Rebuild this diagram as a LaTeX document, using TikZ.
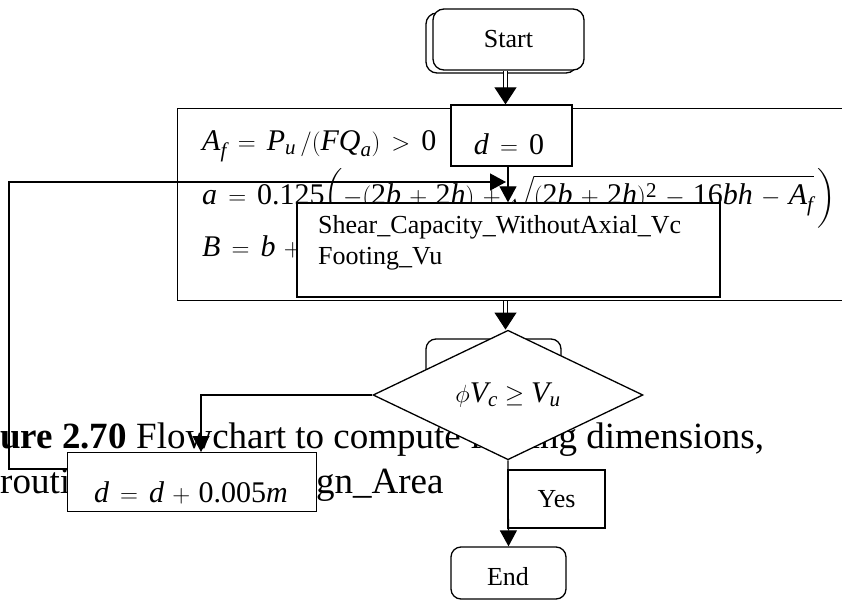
\documentclass[tikz,border=0pt]{standalone}
\usepackage{amsmath}
\usepackage{fontspec}
\setmainfont{Liberation Serif}
\usetikzlibrary{arrows.meta,shapes.geometric,calc}
\newcommand\mv[1]{\textit{#1}}
\newcommand\mr[1]{\textup{#1}}
\newcommand\widesp{\thickmuskip=8mu\relax\medmuskip=6mu\relax}
\begin{document}
\begin{tikzpicture}[x=1pt,y=-1pt,
  lbl/.style={font=\fontsize{26}{31}\selectfont, inner sep=0pt},
  mth/.style={font=\fontsize{30}{36}\selectfont\widesp, inner sep=0pt},
  mthd/.style={font=\fontsize{30}{36}\selectfont, inner sep=0pt},
  captxt/.style={font=\fontsize{37}{44}\selectfont, inner sep=0pt},
  box/.style={draw, line width=1.3pt, fill=white, inner sep=0pt},
  rbox/.style={box, rounded corners=11pt},
  arr/.style={line width=1.3pt, -{Triangle[length=16pt,width=17pt]}},
  dbl/.style={double, double distance=3.5pt, line width=1pt, -{Triangle[length=17pt,width=22pt]}}]
\useasboundingbox (0,0) rectangle (842,601);
\clip (0,0) rectangle (842,601);
% caption text (lowest layer)
\node[captxt, anchor=base west] (cap1) at (0,448) {\textbf{ure 2.70} Flowchart to compute footing dimensions,};
\node[captxt, anchor=base west] (cap2) at (0,493) {routi};
\node[captxt, anchor=base west] (cap3) at (316,493) {gn\_Area};
% large formula box
\node[box, minimum width=723pt, minimum height=192pt, anchor=north west] (big) at (177,108) {};
\node[mth, anchor=base west] (row1) at (202,151) {$\mv{A}_{\mv{f}} = \mv{P}_{\mv{u}}\,/(\mv{FQ}_{\mv{a}}) > \mr{0}$};
\node[mth, anchor=base west] (row2) at (202,205) {$\mv{a} = \mr{0.125}\biggl(-(\mr{2}\mv{b}+\mr{2}\mv{h}) + \sqrt{(\mr{2}\mv{b}+\mr{2}\mv{h})^{\mr{2}} - \mr{16}\mv{bh} - \mv{A}_{\mv{f}}}\,\biggr)$};
\node[mth, anchor=base west] (row3) at (202,257) {$\mv{B} = \mv{b} + {}$};
% d = 0
\node[box, minimum width=121pt, minimum height=61pt] (dzero) at (511.5,135.5) {};
\node[mth, anchor=base] (dzerot) at (509,155) {$\mv{d} = \mr{0}$};
% shear box
\node[box, minimum width=423pt, minimum height=94pt] (shear) at (508.5,250) {};
\node[lbl, anchor=base west, align=left] (sheart) at (318,265) {Shear\_Capacity\_WithoutAxial\_Vc\\Footing\_Vu};
\coordinate (jn) at (506,182);
% start
\node[rbox, minimum width=151pt, minimum height=60pt] (startb) at (501.5,43) {};
\node[rbox, lbl, minimum width=151pt, minimum height=61pt] (start) at (508.5,39.5) {Start};
% decision
\node[rbox, rounded corners=10pt, minimum width=135pt, minimum height=71pt] (dechid) at (493.5,374.5) {};
\node[box, diamond, minimum width=270pt, minimum height=117pt, mthd] (dec) at (508,395) {$\phi\mv{V}_{\mv{c}} \geq \mv{V}_{\mv{u}}$};
% d = d + 0.005m
\node[box, minimum width=249pt, minimum height=59pt, anchor=north west] (dplus) at (67,452) {};
\node[mth, anchor=base] (dplust) at (191,502) {$\mv{d} = \mv{d} + \mr{0.005}\mv{m}$};
\coordinate (lp) at ($(dplus.north west)+(0,17)$);
% yes / end
\node[box, lbl, minimum width=97pt, minimum height=58pt] (yes) at (556.5,499) {Yes};
\node[rbox, rounded corners=10pt, minimum width=115pt, minimum height=52pt] (endn) at (508.5,573) {};
\node[lbl, anchor=base] (endt) at (508,585) {End};
% connectors
\draw[dbl] ([xshift=-3pt]start.south) -- ([xshift=-6pt]dzero.north);
\draw[arr] ([xshift=-3.5pt]dzero.south) -- ([xshift=-0.5pt]shear.north);
\draw[arr] (lp) -| (9,182) -- (jn);
\draw[dbl] ([xshift=-2.5pt]dec.north |- big.south) -- ([xshift=-2.5pt]dec.north);
\draw[arr] (dec.west) -| ([xshift=134pt]dplus.north west);
\draw[arr] (dec.south) -- (endn.north);
\end{tikzpicture}
\end{document}
